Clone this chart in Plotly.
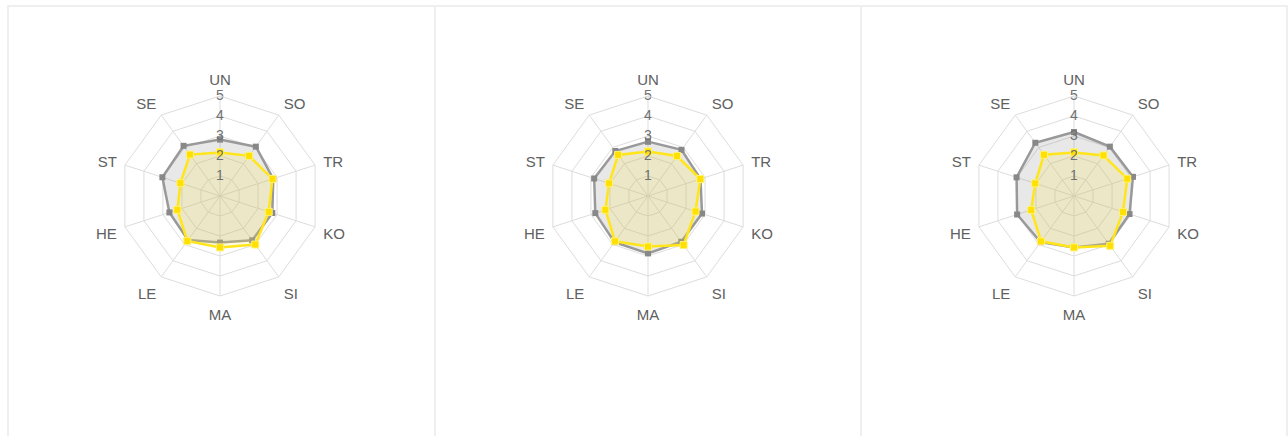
import plotly.graph_objects as go

categories = ["UN", "SO", "TR", "KO", "SI", "MA", "LE", "HE", "ST", "SE"]

gray_1 = [2.83, 3.05, 2.8, 2.75, 2.74, 2.33, 2.72, 2.66, 3.03, 3.1]
yellow_1 = [2.18, 2.48, 2.76, 2.56, 3.0, 2.57, 2.78, 2.24, 2.08, 2.56]

gray_2 = [2.72, 2.85, 2.76, 2.84, 2.83, 2.87, 2.85, 2.77, 2.83, 2.78]
yellow_2 = [2.22, 2.47, 2.75, 2.5, 3.03, 2.53, 2.8, 2.24, 2.05, 2.54]

gray_3 = [3.2, 3.05, 3.1, 2.92, 2.95, 2.57, 2.85, 2.99, 3.02, 3.29]
yellow_3 = [2.18, 2.51, 2.8, 2.58, 3.08, 2.57, 2.8, 2.25, 2.04, 2.55]

radial_ticks = [1, 2, 3, 4, 5]

panels = [(gray_1, yellow_1), (gray_2, yellow_2), (gray_3, yellow_3)]

W, H = 1288, 436
centers_x = [220, 648, 1074]
center_y = 196
R = 100
FONT = "Liberation Sans, Arial, sans-serif"

fig = go.Figure()


def closed(vals):
    return list(vals) + [vals[0]]


cats_closed = categories + [categories[0]]

for i, (g, y) in enumerate(panels):
    sub = "polar" if i == 0 else f"polar{i+1}"
    fig.add_trace(go.Scatterpolar(
        r=closed(g), theta=cats_closed, subplot=sub, mode="lines+markers",
        fill="toself", fillcolor="rgba(140,140,140,0.2)",
        line=dict(color="#999999", width=2.5),
        marker=dict(symbol="square", size=6, color="#888888"),
        showlegend=False, hoverinfo="skip"))
    fig.add_trace(go.Scatterpolar(
        r=closed(y), theta=cats_closed, subplot=sub, mode="lines+markers",
        fill="toself", fillcolor="rgba(250,232,70,0.2)",
        line=dict(color="#FFE51A", width=2.5),
        marker=dict(symbol="square", size=7, color="#FFE000",
                    line=dict(color="#FFF27A", width=1)),
        showlegend=False, hoverinfo="skip"))
    fig.add_trace(go.Scatterpolar(
        r=radial_ticks, theta=[categories[0]] * len(radial_ticks), subplot=sub,
        mode="text", text=[str(t) for t in radial_ticks],
        textfont=dict(size=14, color="#707070", family=FONT),
        textposition="middle center", showlegend=False, hoverinfo="skip"))

    cx = centers_x[i]
    dom = dict(x=[(cx - R) / W, (cx + R) / W],
               y=[(H - center_y - R) / H, (H - center_y + R) / H])
    polar = dict(
        domain=dom,
        bgcolor="rgba(0,0,0,0)",
        gridshape="linear",
        radialaxis=dict(range=[0, 5], dtick=1, showticklabels=False, ticks="",
                        showline=False, gridcolor="#dddddd", gridwidth=1),
        angularaxis=dict(direction="clockwise", rotation=90, categoryorder="array",
                         categoryarray=categories, gridcolor="#dddddd",
                         linecolor="#dddddd", linewidth=1,
                         ticks="outside", ticklen=5, tickcolor="rgba(0,0,0,0)",
                         tickfont=dict(size=15, color="#606060", family=FONT)),
    )
    fig.update_layout(**{sub: polar})

# panel borders
border = "#efefef"
shapes = []
edges = [8, 435, 861, 1287]
for k in range(3):
    x0, x1 = edges[k], edges[k + 1]
    shapes.append(dict(type="rect", xref="paper", yref="paper",
                       x0=x0 / W, x1=x1 / W, y0=-0.05, y1=(H - 6) / H,
                       line=dict(color=border, width=2), fillcolor="rgba(0,0,0,0)",
                       layer="below"))

fig.update_layout(
    width=W, height=H,
    margin=dict(l=0, r=0, t=0, b=0),
    paper_bgcolor="white", plot_bgcolor="white",
    shapes=shapes,
    font=dict(family=FONT),
)

fig.write_html("out.html", config={"displayModeBar": False},
               post_script="document.body.style.margin='0';document.body.style.overflow='hidden';")
